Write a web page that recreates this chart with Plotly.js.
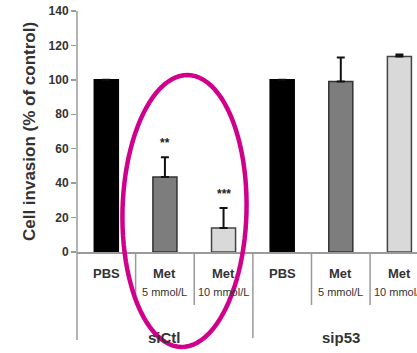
<!DOCTYPE html>
<html>
<head>
<meta charset="utf-8">
<script src="https://cdn.plot.ly/plotly-3.0.1.min.js"></script>
<style>
  html, body { margin: 0; padding: 0; background: #fff; }
  #chart { width: 417px; height: 353px; }
</style>
</head>
<body>
<div id="chart"></div>
<script>
// Cell invasion after metformin, siCtl vs sip53 knock-down
const groups = ["siCtl", "siCtl", "siCtl", "sip53", "sip53", "sip53"];
const treatments = ["PBS", "Met", "Met", "PBS", "Met", "Met"];
const doses = ["", "5 mmol/L", "10 mmol/L", "", "5 mmol/L", "10 mmol/L"];
const invasion = [100, 43.5, 14, 100, 99, 113.5];
const invasionSem = [0, 11.5, 11.5, 0, 14, 1.2];
const significance = ["", "**", "***", "", "", ""];
const groupNames = ["siCtl", "sip53"];

const barColors = ["#000000", "#7d7d7d", "#d9d9d9", "#000000", "#7d7d7d", "#d9d9d9"];
const barLines = ["#000000", "#333333", "#444444", "#000000", "#333333", "#444444"];

const W = 417, H = 353;
const M = { l: 77, r: 0, t: 11, b: 101 };
const plotW = W - M.l - M.r, plotH = H - M.t - M.b;
const xRange = [-0.5, 5.3];
const idx = invasion.map((_, i) => i);

// pixel -> paper helpers for the decorations around the plot area
const px2paperX = px => (px - M.l) / plotW;
const py2paperY = py => (H - M.b - py) / plotH;

const axisGrey = "#9a9a9a";
const textColor = "#333333";
const font = "Arial, 'Liberation Sans', sans-serif";

const trace = {
  type: "bar",
  x: idx,
  y: invasion,
  width: 0.41,
  marker: { color: barColors, line: { color: barLines, width: 1.5 } },
  error_y: {
    type: "data", symmetric: false, array: invasionSem,
    arrayminus: invasionSem.map(() => 0),
    color: "#111", thickness: 2, width: 4
  },
  hoverinfo: "skip"
};

const annotations = [];
const shapes = [];

idx.forEach(i => {
  // treatment label
  annotations.push({
    xref: "x", yref: "paper", x: i, y: py2paperY(273),
    text: "<b>" + treatments[i] + "</b>", showarrow: false,
    yanchor: "middle", font: { family: font, size: 13, color: textColor }
  });
  if (doses[i]) {
    annotations.push({
      xref: "x", yref: "paper", x: i, y: py2paperY(292),
      text: doses[i], showarrow: false,
      yanchor: "middle", font: { family: font, size: 11, color: textColor }
    });
  }
  if (significance[i]) {
    annotations.push({
      xref: "x", yref: "y", x: i, y: invasion[i] + invasionSem[i],
      text: "<b>" + significance[i] + "</b>", showarrow: false,
      yanchor: "bottom", yshift: 5, font: { family: font, size: 12, color: "#222" }
    });
  }
  // separators between categories
  if (i < idx.length - 1) {
    const groupBreak = groups[i] !== groups[i + 1];
    shapes.push({
      type: "line", xref: "x", yref: "paper",
      x0: i + 0.5, x1: i + 0.5, y0: 0,
      y1: py2paperY(groupBreak ? 338 : 305),
      line: { color: axisGrey, width: 1.5 }
    });
  }
});

// group labels centred under their categories
groupNames.forEach(g => {
  const members = idx.filter(i => groups[i] === g);
  const centre = (members[0] + members[members.length - 1]) / 2;
  annotations.push({
    xref: "x", yref: "paper", x: centre, y: py2paperY(337),
    text: "<b>" + g + "</b>", showarrow: false, yanchor: "middle",
    font: { family: font, size: 15, color: textColor }
  });
});

// y axis line extended below the plot
shapes.push({
  type: "line", xref: "paper", yref: "paper",
  x0: 0, x1: 0, y0: py2paperY(340), y1: 1,
  line: { color: axisGrey, width: 1.5 }
});

// magenta ring around the siCtl metformin bars
(function () {
  const cx = 184.5, cy = 211, a = 136, b = 62;
  const tilt = Math.atan2(7, 272);
  let d = "";
  for (let k = 0; k <= 96; k++) {
    const t = (k / 96) * 2 * Math.PI;
    const ex = b * Math.cos(t), ey = a * Math.sin(t);
    const px = cx + ex * Math.cos(tilt) - ey * Math.sin(tilt);
    const py = cy + ex * Math.sin(tilt) + ey * Math.cos(tilt);
    d += (k === 0 ? "M" : "L") + px2paperX(px).toFixed(5) + "," + py2paperY(py).toFixed(5);
  }
  shapes.push({
    type: "path", xref: "paper", yref: "paper", path: d + "Z",
    line: { color: "#d1008c", width: 4.5 }
  });
})();

const layout = {
  width: W, height: H,
  margin: M,
  paper_bgcolor: "#ffffff",
  plot_bgcolor: "#ffffff",
  showlegend: false,
  font: { family: font, color: textColor },
  xaxis: {
    range: xRange, showticklabels: false, ticks: "",
    showgrid: false, zeroline: false,
    showline: true, linecolor: axisGrey, linewidth: 1.5
  },
  yaxis: {
    range: [0, 140], tickvals: [0, 20, 40, 60, 80, 100, 120, 140],
    ticks: "outside", ticklen: 5, tickwidth: 1.5, tickcolor: axisGrey,
    tickfont: { family: font, size: 12, color: textColor, weight: "bold" },
    showgrid: false, zeroline: false, showline: false,
    title: {
      text: "<b>Cell invasion (% of control)</b>", standoff: 8,
      font: { family: font, size: 17, color: textColor }
    }
  },
  annotations: annotations,
  shapes: shapes
};

Plotly.newPlot("chart", [trace], layout, { displayModeBar: false, staticPlot: true });
</script>
</body>
</html>
